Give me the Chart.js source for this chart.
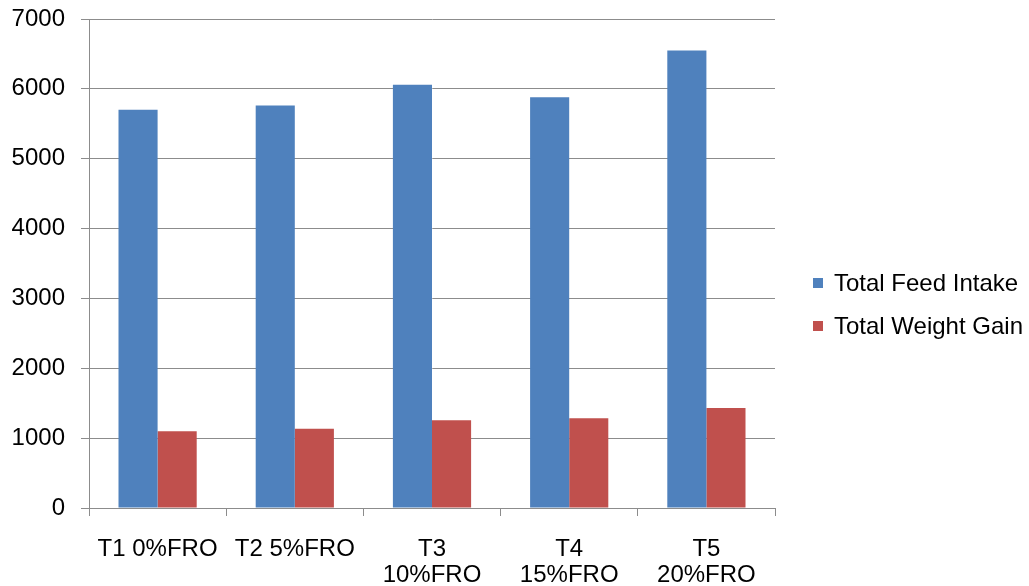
<!DOCTYPE html>
<html>
<head>
<meta charset="utf-8">
<script src="https://cdn.jsdelivr.net/npm/chart.js@4"></script>
<style>
  html, body { margin: 0; padding: 0; background: #fff; }
  #wrap { width: 1029px; height: 586px; }
</style>
</head>
<body>
<div id="wrap"><canvas id="chart"></canvas></div>
<script>
// Daten
const categories = [["T1 0%FRO"], ["T2 5%FRO"], ["T3", "10%FRO"], ["T4", "15%FRO"], ["T5", "20%FRO"]];
const feedIntake = [5700, 5760, 6060, 5880, 6550];
const weightGain = [1100, 1135, 1255, 1285, 1430];
const yTicks = [0, 1000, 2000, 3000, 4000, 5000, 6000, 7000];

const FONT = "'Liberation Sans', Arial, sans-serif";
const gridColor = "#8c8c8c";

/* --------- Legende rechts, wie im Original --------- */
const sideLegend = {
  id: "sideLegend",
  afterDraw(chart) {
    const c = chart.ctx;
    const x = chart.chartArea.right + 38;
    const y0 = 283;
    c.save();
    c.font = "24px " + FONT;
    c.textBaseline = "middle";
    c.textAlign = "left";
    chart.data.datasets.forEach((ds, i) => {
      const y = y0 + i * 43;
      c.fillStyle = ds.backgroundColor;
      c.fillRect(x, y - 5, 10, 10);
      c.fillStyle = "#000";
      c.fillText(ds.label, x + 21, y + 1);
    });
    c.restore();
  }
};

new Chart(document.getElementById("chart"), {
  type: "bar",
  data: {
    labels: categories,
    datasets: [
      { label: "Total Feed Intake", data: feedIntake, backgroundColor: "#4f81bd" },
      { label: "Total Weight Gain", data: weightGain, backgroundColor: "#c0504d" }
    ]
  },
  options: {
    responsive: true,
    maintainAspectRatio: false,
    animation: false,
    layout: { padding: { top: 19, left: 0, right: 254, bottom: 0 } },
    datasets: { bar: { barPercentage: 1, categoryPercentage: 0.57 } },
    scales: {
      x: {
        afterFit: axis => { axis.height = 78; axis.paddingLeft = 0; axis.paddingRight = 0; },
        grid: { offset: true, drawOnChartArea: false, color: gridColor, tickLength: 8 },
        border: { color: gridColor },
        ticks: { color: "#000", font: { family: FONT, size: 24, lineHeight: 1.08 }, maxRotation: 0, padding: 20 }
      },
      y: {
        min: yTicks[0],
        max: yTicks[yTicks.length - 1],
        afterBuildTicks: axis => { axis.ticks = yTicks.map(v => ({ value: v })); },
        afterFit: axis => { axis.width = 89; axis.paddingTop = 0; axis.paddingBottom = 0; },
        grid: { color: gridColor, tickLength: 8 },
        border: { color: gridColor },
        ticks: { color: "#000", font: { family: FONT, size: 24 }, padding: 16, callback: v => String(v) }
      }
    },
    plugins: {
      tooltip: { enabled: false },
      legend: { display: false }
    }
  },
  plugins: [sideLegend]
});
</script>
</body>
</html>
